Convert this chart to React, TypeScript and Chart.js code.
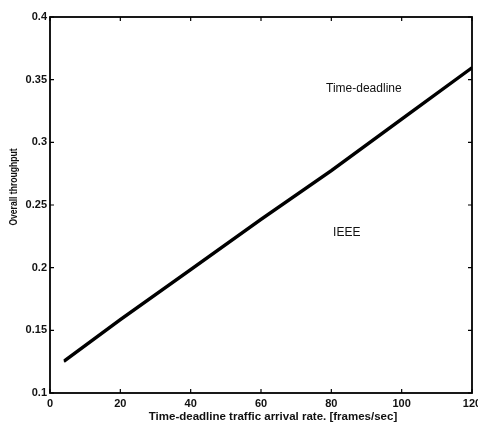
import React, { useEffect, useRef } from "react";
import { Chart, registerables } from "chart.js";

Chart.register(...registerables);

const arrivalRates = [4, 20, 40, 60, 80, 100, 120];
const timeDeadlineThroughput = [0.126, 0.159, 0.199, 0.239, 0.278, 0.319, 0.36];
const ieeeThroughput = [0.125, 0.158, 0.198, 0.238, 0.277, 0.318, 0.359];
const xTicks = [0, 20, 40, 60, 80, 100, 120];
const yTicks = [0.1, 0.15, 0.2, 0.25, 0.3, 0.35, 0.4];
const annotations = [
  { text: "Time-deadline", x: 78.5, y: 0.343 },
  { text: "IEEE", x: 80.5, y: 0.228 },
];
const xTitle = "Time-deadline traffic arrival rate. [frames/sec]";
const yTitle = "Overall throughput";

const FONT = "Liberation Sans, Arial, sans-serif";

const framePlugin = {
  id: "frame",
  afterDraw(chart: any) {
    const { ctx, chartArea } = chart;
    const { left, right, top, bottom } = chartArea;
    const xs = chart.scales.x;
    const ys = chart.scales.y;
    ctx.save();
    ctx.strokeStyle = "#000";
    ctx.lineWidth = 1.8;
    ctx.strokeRect(left, top, right - left, bottom - top);
    ctx.lineWidth = 1.2;
    ctx.beginPath();
    xTicks.forEach((v) => {
      const px = xs.getPixelForValue(v);
      ctx.moveTo(px, bottom);
      ctx.lineTo(px, bottom - 4);
      ctx.moveTo(px, top);
      ctx.lineTo(px, top + 4);
    });
    yTicks.forEach((v) => {
      const py = ys.getPixelForValue(v);
      ctx.moveTo(left, py);
      ctx.lineTo(left + 4, py);
      ctx.moveTo(right, py);
      ctx.lineTo(right - 4, py);
    });
    ctx.stroke();

    ctx.fillStyle = "#111";
    ctx.font = `bold 11px ${FONT}`;
    ctx.textAlign = "center";
    ctx.textBaseline = "middle";
    xTicks.forEach((v) => {
      ctx.fillText(String(v), xs.getPixelForValue(v), bottom + 11);
    });
    ctx.textAlign = "right";
    yTicks.forEach((v) => {
      ctx.fillText(String(v), left - 3, ys.getPixelForValue(v));
    });

    ctx.textAlign = "center";
    ctx.font = `bold 11.5px ${FONT}`;
    ctx.fillText(xTitle, 273, bottom + 24);
    ctx.save();
    ctx.translate(14, 187);
    ctx.rotate(-Math.PI / 2);
    ctx.scale(0.78, 1);
    ctx.font = `bold 11px ${FONT}`;
    ctx.fillText(yTitle, 0, 0);
    ctx.restore();

    ctx.font = `12px ${FONT}`;
    ctx.textAlign = "left";
    annotations.forEach((a) => {
      ctx.fillText(a.text, xs.getPixelForValue(a.x), ys.getPixelForValue(a.y));
    });
    ctx.restore();
  },
};

export default function App() {
  const ref = useRef<HTMLCanvasElement>(null);
  useEffect(() => {
    if (!ref.current) return;
    const chart = new Chart(ref.current, {
      type: "line",
      data: {
        datasets: [
          {
            label: "Time-deadline",
            data: arrivalRates.map((x, i) => ({ x, y: timeDeadlineThroughput[i] })),
            borderColor: "#000",
            borderWidth: 2.4,
            pointRadius: 0,
            tension: 0,
          },
          {
            label: "IEEE",
            data: arrivalRates.map((x, i) => ({ x, y: ieeeThroughput[i] })),
            borderColor: "#000",
            borderWidth: 2.4,
            pointRadius: 0,
            tension: 0,
          },
        ],
      },
      options: {
        responsive: false,
        animation: false,
        layout: { padding: { top: 17, right: 6, left: 0, bottom: 0 } },
        plugins: { legend: { display: false }, tooltip: { enabled: false } },
        scales: {
          x: {
            type: "linear",
            min: 0,
            max: 120,
            grid: { display: false },
            border: { display: false },
            ticks: { display: false },
            afterFit: (s: any) => {
              s.height = 34;
            },
          },
          y: {
            type: "linear",
            min: 0.1,
            max: 0.4,
            grid: { display: false },
            border: { display: false },
            ticks: { display: false },
            afterFit: (s: any) => {
              s.width = 50;
            },
          },
        },
      },
      plugins: [framePlugin],
    });
    return () => chart.destroy();
  }, []);
  return (
    <div style={{ position: "absolute", left: 0, top: 0, width: 478, height: 427, background: "#fff" }}>
      <canvas ref={ref} width={478} height={427} style={{ display: "block" }} />
    </div>
  );
}
